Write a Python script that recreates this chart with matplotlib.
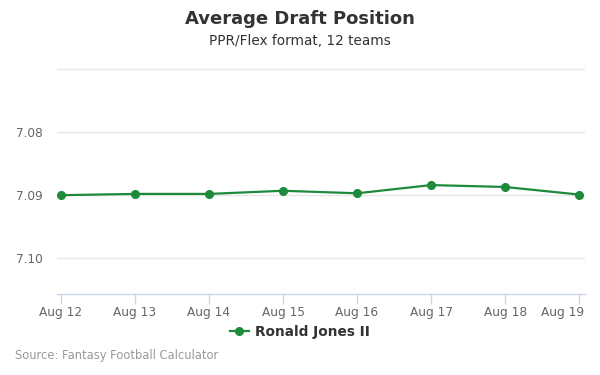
import matplotlib.pyplot as plt
from matplotlib.lines import Line2D
from matplotlib.transforms import ScaledTranslation

# data
dates = ["Aug 12", "Aug 13", "Aug 14", "Aug 15", "Aug 16", "Aug 17", "Aug 18", "Aug 19"]
adp = [7.0900, 7.0898, 7.0898, 7.0893, 7.0897, 7.0884, 7.0887, 7.0899]
player = "Ronald Jones II"
y_ticks = [7.07, 7.08, 7.09, 7.10]
y_labels = ["", "7.08", "7.09", "7.10"]

green = "#1d8a3c"

fig = plt.figure(figsize=(6, 3.75), dpi=100)
ax = fig.add_axes([0.095, 0.2152, 0.88, 0.6027])

x = list(range(len(dates)))
ax.plot(x, adp, color=green, lw=1.6, marker="o", markersize=5.5, zorder=3)

ax.set_xlim(-0.054, 7.08)
ax.set_ylim(7.1057, 7.0699)

ax.set_yticks(y_ticks)
ax.set_yticklabels(y_labels)
ax.set_xticks(x)
ax.set_xticklabels(dates)

ax.grid(axis="y", color="#e6e6e6", lw=1)
ax.set_axisbelow(True)
for s in ["top", "right", "left"]:
    ax.spines[s].set_visible(False)
ax.spines["bottom"].set_color("#ccd6eb")
ax.spines["bottom"].set_linewidth(1)

ax.tick_params(axis="y", length=0, pad=10, labelsize=8.7, labelcolor="#666666")
ax.tick_params(axis="x", length=7, width=1, color="#ccd6eb", pad=1.5,
               labelsize=8.7, labelcolor="#666666")

# last label is pulled inside the plot edge, as in the reference
last = ax.get_xticklabels()[-1]
last.set_ha("right")
last.set_transform(last.get_transform() + ScaledTranslation(5 / 100, 0, fig.dpi_scale_trans))

fig.text(0.5, 1 - 19 / 375, "Average Draft Position", ha="center", va="center",
         fontsize=13, fontweight="bold", color="#333333")
fig.text(0.5, 1 - 41 / 375, "PPR/Flex format, 12 teams", ha="center", va="center",
         fontsize=9.8, color="#333333")

# legend
handle = Line2D([], [], color=green, lw=1.6, marker="o", markersize=5.5)
leg = fig.legend([handle], [player], loc="center", bbox_to_anchor=(0.5, 1 - 332 / 375),
                 frameon=False, handlelength=1.4, handletextpad=0.5,
                 prop={"weight": "bold", "size": 9.8})
for t in leg.get_texts():
    t.set_color("#333333")

fig.text(15 / 600, 1 - 356 / 375, "Source: Fantasy Football Calculator", ha="left",
         va="center", fontsize=8.3, color="#999999")

fig.savefig("out.png", dpi=100)
